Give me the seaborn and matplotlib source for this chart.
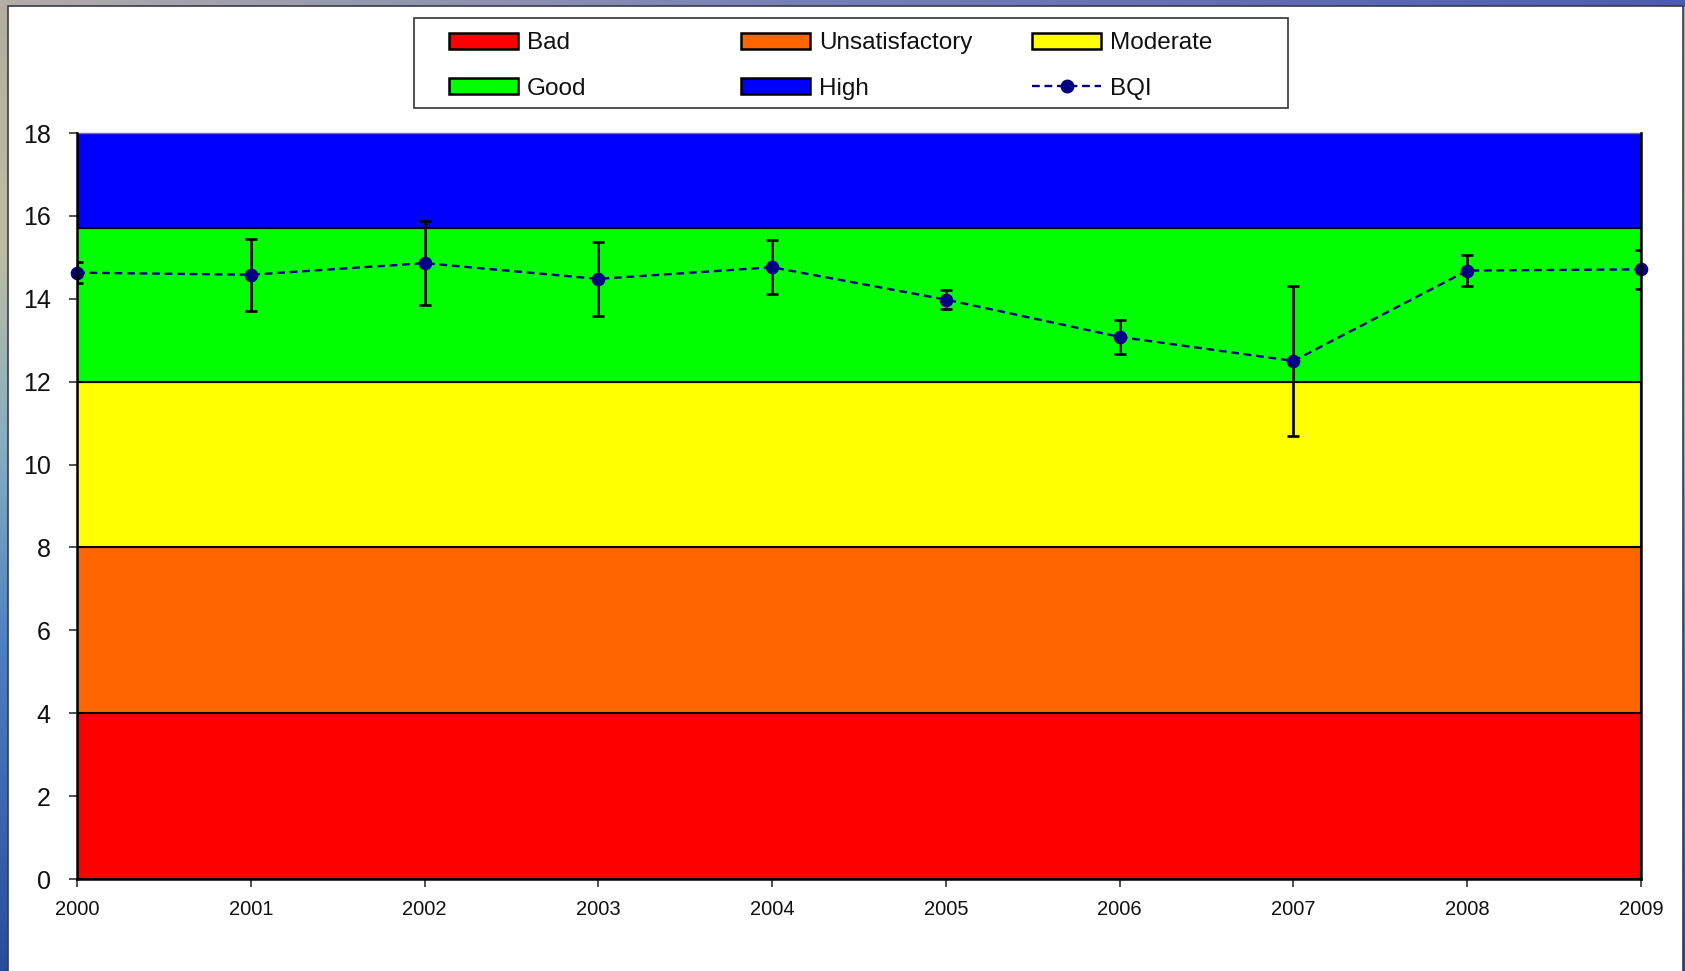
import numpy as np
import matplotlib
matplotlib.use("Agg")
import matplotlib.pyplot as plt
from matplotlib.patches import Rectangle, Patch
from matplotlib.lines import Line2D
import seaborn as sns

# ---- data -------------------------------------------------------------
years = [2000, 2001, 2002, 2003, 2004, 2005, 2006, 2007, 2008, 2009]
bqi = [14.63, 14.58, 14.86, 14.48, 14.76, 13.98, 13.08, 12.50, 14.68, 14.71]
bqi_err = [0.25, 0.87, 1.01, 0.90, 0.65, 0.22, 0.42, 1.81, 0.38, 0.47]

class_names = ["Bad", "Unsatisfactory", "Moderate", "Good", "High"]
class_lower = [0, 4, 8, 12, 15.7]
class_upper = [4, 8, 12, 15.7, 18]
class_colors = ["#FF0000", "#FF6600", "#FFFF00", "#00FF00", "#0000FF"]

y_ticks = [0, 2, 4, 6, 8, 10, 12, 14, 16, 18]

# ---- style ------------------------------------------------------------
sns.set_theme(style="white")
plt.rcParams["font.family"] = ["Liberation Sans", "DejaVu Sans"]

W, H = 1685, 971
fig = plt.figure(figsize=(W / 100, H / 100), dpi=100)

# decorative backdrop around the white panel
bg = fig.add_axes([0, 0, 1, 1], zorder=-2)
yy = np.arange(H)
xx = np.arange(W)
left_stops_y = [0, 250, 450, 650, 971]
left_cols = np.array([[0.70, 0.68, 0.62], [0.74, 0.74, 0.64], [0.52, 0.68, 0.76],
                      [0.30, 0.50, 0.76], [0.16, 0.30, 0.60]])
img = np.zeros((H, W, 3))
for c in range(3):
    img[:, :, c] = np.interp(yy, left_stops_y, left_cols[:, c])[:, None]
top_stops_x = [0, 800, 1685]
top_cols = np.array([[0.70, 0.68, 0.66], [0.46, 0.50, 0.72], [0.30, 0.36, 0.70]])
for c in range(3):
    img[:8, :, c] = np.interp(xx, top_stops_x, top_cols[:, c])[None, :]
bg.imshow(img, extent=[0, 1, 0, 1], aspect="auto", interpolation="bilinear")
bg.set_axis_off()

panel = Rectangle((8 / W, -0.01), (1683 - 8) / W, 1.01 - 6 / H,
                  transform=fig.transFigure, facecolor="white",
                  edgecolor="#3a3a4a", linewidth=1.2, zorder=-1)
fig.patches.append(panel)

# ---- main axes --------------------------------------------------------
ax = fig.add_axes([77 / W, 1 - 879 / H, (1641 - 77) / W, (879 - 133) / H])

for lo, hi, col in zip(class_lower, class_upper, class_colors):
    ax.axhspan(lo, hi, facecolor=col, edgecolor="black", linewidth=1.5, zorder=1)

ax.errorbar(years, bqi, yerr=bqi_err, fmt="none", ecolor="black",
            elinewidth=1.9, capsize=4.5, capthick=1.9, zorder=3)

sns.lineplot(x=years, y=bqi, ax=ax, color="#000080", linewidth=1.7,
             linestyle=(0, (3.3, 2.0)), marker="o", markersize=9,
             markerfacecolor="#000080", markeredgecolor="#000080",
             markeredgewidth=0.8, zorder=4, clip_on=False)

ax.set_xlim(years[0], years[-1])
ax.set_ylim(0, 18)
ax.set_xticks(years)
ax.set_xticklabels([str(y) for y in years])
ax.set_yticks(y_ticks)
ax.set_yticklabels([str(t) for t in y_ticks])
ax.set_xlabel("")
ax.set_ylabel("")
ax.tick_params(axis="y", direction="out", length=6, width=1.2, color="#333333",
               labelsize=18, pad=13, labelcolor="#111111", left=True)
ax.tick_params(axis="x", direction="out", length=6, width=1.2, color="#333333",
               labelsize=14.5, pad=9, labelcolor="#111111", bottom=True)
for side in ["left", "bottom", "right"]:
    ax.spines[side].set_color("black")
    ax.spines[side].set_linewidth(1.8)
    ax.spines[side].set_zorder(5)
ax.spines["top"].set_color("#777777")
ax.spines["top"].set_linewidth(1.0)

# ---- legend: three columns of two entries in one frame ----------------
fig.patches.append(Rectangle((414 / W, 1 - 108 / H), (1288 - 414) / W, 90 / H,
                             transform=fig.transFigure, facecolor="white",
                             edgecolor="#333333", linewidth=1.2, zorder=2))

bqi_handle = Line2D([], [], color="#000080", linewidth=1.7, linestyle=(0, (3.3, 2.0)),
                    marker="o", markersize=9, markerfacecolor="#000080",
                    markeredgecolor="#000080")
patch_handles = [Patch(facecolor=c, edgecolor="black", linewidth=1.8) for c in class_colors]

columns = [
    ([patch_handles[0], patch_handles[3]], [class_names[0], class_names[3]], 449),
    ([patch_handles[1], patch_handles[4]], [class_names[1], class_names[4]], 741),
    ([patch_handles[2], bqi_handle], [class_names[2], "BQI"], 1032),
]
for handles, labels, x_px in columns:
    leg = fig.legend(handles, labels, loc="center left",
                     bbox_to_anchor=(x_px / W, 1 - 66 / H),
                     bbox_transform=fig.transFigure, frameon=False,
                     fontsize=17.5, handlelength=2.85, handleheight=0.65,
                     handletextpad=0.35, labelspacing=0.95, borderpad=0,
                     borderaxespad=0, numpoints=1)
    leg.set_zorder(6)
    for t in leg.get_texts():
        t.set_color("#111111")

fig.savefig("out.png", dpi=100)
